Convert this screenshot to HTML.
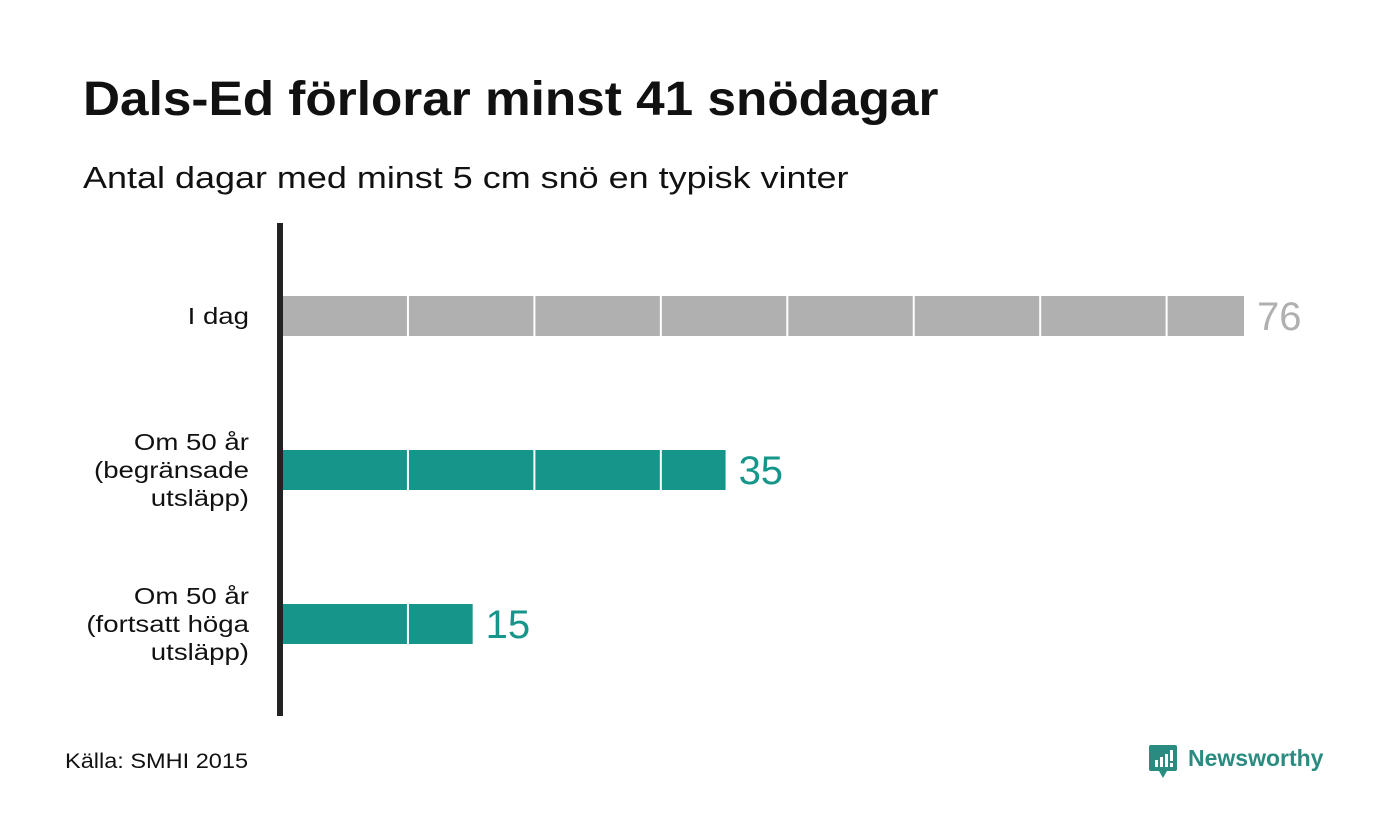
<!DOCTYPE html>
<html><head><meta charset="utf-8"><style>
body{margin:0;width:1400px;height:840px;background:#fff;font-family:"Liberation Sans","DejaVu Sans",sans-serif;overflow:hidden;position:relative}
.t{position:absolute;white-space:nowrap;transform-origin:0 0}
</style></head><body>
<div class="t" style="left:83px;top:72px;font-size:48px;font-weight:bold;color:#111;transform:scaleX(1.069)">Dals-Ed förlorar minst 41 snödagar</div>
<div class="t" style="left:83px;top:160px;font-size:31px;color:#111;transform:scaleX(1.16)">Antal dagar med minst 5 cm snö en typisk vinter</div>
<svg id="c" width="1400" height="840" style="position:absolute;left:0;top:0"></svg>
<div class="t" style="left:65px;top:750px;font-size:21px;color:#111;transform:scaleX(1.12)">Källa: SMHI 2015</div>
<div style="position:absolute;left:1149px;top:745px">
<svg width="30" height="34"><rect x="0" y="0" width="28" height="26" rx="2" fill="#2a8c80"/><polygon points="10,26 18,26 14,33" fill="#2a8c80"/><rect x="6" y="15" width="3" height="7" fill="#fff"/><rect x="11" y="12" width="3" height="10" fill="#fff"/><rect x="16" y="9" width="3" height="13" fill="#fff"/><rect x="21" y="5" width="3" height="11" fill="#fff"/><rect x="21" y="18" width="3" height="4" fill="#fff"/></svg>
</div>
<div class="t" style="left:1188px;top:745px;font-size:23px;font-weight:bold;color:#2a8c80">Newsworthy</div>
<script>
const categories=[["I dag"],["Om 50 år","(begränsade","utsläpp)"],["Om 50 år","(fortsatt höga","utsläpp)"]];
const values=[76,35,15];
const colors=["#b0b0b0","#16958a","#16958a"];
const labelColors=["#b0b0b0","#16958a","#16958a"];
const NS="http://www.w3.org/2000/svg";
const svg=document.getElementById('c');
const x0=283,pxPer=(1244-283)/76;
const xs=v=>x0+v*pxPer;
const ys=i=>296+i*154;
const bh=40;
function mk(t,a){const e=document.createElementNS(NS,t);for(const k in a)e.setAttribute(k,a[k]);svg.appendChild(e);return e;}
values.forEach((v,i)=>{
  const r=mk('rect',{x:x0,y:ys(i),width:xs(v)-x0,height:bh,fill:colors[i]});
  
  
  for(let s=10;s<v;s+=10){
    const l=mk('rect',{x:xs(s)-2.5,y:ys(i),width:2,height:bh,fill:'#fff'});
    
    
  }
  const t=mk('text',{x:xs(v)+13,y:ys(i)+bh/2+14,'font-size':40,fill:labelColors[i],'font-family':'Liberation Sans, sans-serif'});
  t.textContent=v;
  
  
  const lines=categories[i],lh=28,cy=ys(i)+bh/2;
  lines.forEach((ln,j)=>{
    const c=mk('text',{x:249,y:cy+(j-(lines.length-1)/2)*lh+8,'font-size':23,fill:'#111','text-anchor':'end','font-family':'Liberation Sans, sans-serif'});
    c.textContent=ln;
    
    
    const w=c.getComputedTextLength();
    c.setAttribute('textLength',w*1.2);
    c.setAttribute('lengthAdjust','spacingAndGlyphs');
  });
});
const ax=mk('rect',{x:277,y:223,width:6,height:493,fill:'#222'});


</script>
</body></html>
